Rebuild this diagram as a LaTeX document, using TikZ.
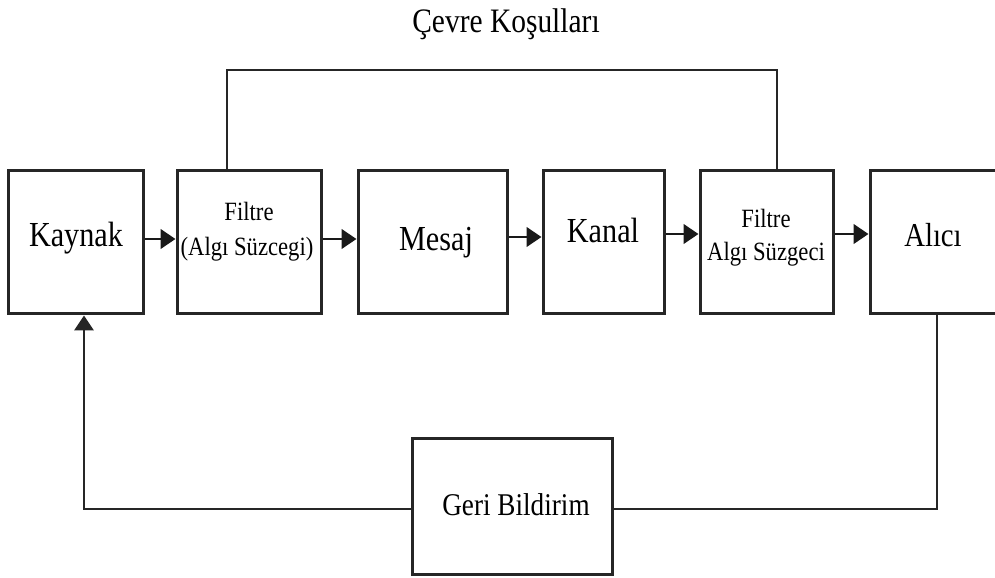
\documentclass[tikz,border=0pt]{standalone}
\usepackage{fontspec}
\setmainfont{Liberation Serif}[FakeStretch=0.86]
\usetikzlibrary{arrows.meta}
\begin{document}
\begin{tikzpicture}[x=0.02cm,y=-0.02cm,
  box/.style={draw=black!85, line width=1.7pt, minimum height=2.88cm, inner sep=0pt, fill=white},
  conn/.style={draw=black!85, line width=1.2pt},
  tip/.style={-{Triangle[length=8.5pt,width=11pt]}},
  arr/.style={draw=black!90, line width=1.7pt, tip},
  big/.style={font=\fontsize{20}{24}\selectfont, inner sep=0pt, anchor=base},
  small/.style={font=\fontsize{15}{18}\selectfont, inner sep=0pt, anchor=base}]
\useasboundingbox (0,0) rectangle (995,578);
\clip (0,0) rectangle (995,578);
% boxes
\node[box, minimum width=2.72cm] (kaynak) at (76,242) {};
\node[box, minimum width=2.90cm] (f1) at (249.5,242) {};
\node[box, minimum width=3.00cm] (mesaj) at (433,242) {};
\node[box, minimum width=2.44cm] (kanal) at (604,242) {};
\node[box, minimum width=2.68cm] (f2) at (767,242) {};
\node[box, minimum width=2.80cm] (alici) at (940,242) {};
\node[box, minimum width=4.02cm, minimum height=2.74cm] (geri) at (512.5,506.5) {};
% texts
\node[big] (tkaynak) at (76,246) {Kaynak};
\node[small] (tf1a) at (249,220) {Filtre};
\node[small] (tf1b) at (247,255) {(Algı Süzcegi)};
\node[big] (tmesaj) at (436,250) {Mesaj};
\node[big] (tkanal) at (603,242) {Kanal};
\node[small] (tf2a) at (766,227) {Filtre};
\node[small] (tf2b) at (766,260) {Algı Süzgeci};
\node[big, font=\fontsize{19}{23}\selectfont] (talici) at (933,246) {Alıcı};
\node[big, font=\fontsize{18}{22}\selectfont] (tgeri) at (516,515) {Geri Bildirim};
\node[big, font=\fontsize{19.5}{23}\selectfont] (tcevre) at (506,32) {Çevre Koşulları};
% forward arrows
\draw[arr] (kaynak.east |- 0,239) -- (f1.west |- 0,239);
\draw[arr] (f1.east |- 0,239) -- (mesaj.west |- 0,239);
\draw[arr] (mesaj.east |- 0,237) -- (kanal.west |- 0,237);
\draw[arr] (kanal.east |- 0,234) -- (f2.west |- 0,234);
\draw[arr] (f2.east |- 0,234) -- (alici.west |- 0,234);
% environment line
\coordinate (tl) at (227,70);
\coordinate (tr) at (777,70);
\draw[conn] (f1.north -| tl) -- (tl) -- (tr) -- (f2.north -| tr);
% feedback
\coordinate (br) at (937,509);
\coordinate (bl) at (84,509);
\draw[conn] (alici.south -| br) -- (br) -- (geri.east |- br);
\draw[conn, tip] (geri.west |- bl) -- (bl) -- (kaynak.south -| bl);
\end{tikzpicture}
\end{document}
